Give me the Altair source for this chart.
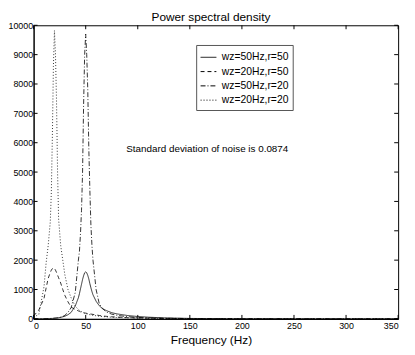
import altair as alt
import pandas as pd

# ---------------- data ----------------
freq = [0, 5, 10, 12, 14, 16, 17, 18, 19, 20, 21, 22, 23, 24, 26, 28, 30, 33, 36, 40,
        43, 44, 45, 46, 47, 48, 49, 50, 51, 52, 53, 54, 55, 56, 57, 60, 63, 66, 70, 75,
        80, 90, 100, 110, 125, 150, 175, 200, 250, 300, 350]

psd_50_50 = [0, 2, 5, 7, 9, 12, 13, 15, 17, 20, 23, 27, 32, 38, 52, 70, 90, 140, 220, 440,
             720, 860, 1020, 1180, 1340, 1470, 1570, 1600, 1570, 1480, 1360, 1200, 1060, 930, 820, 600, 450, 350, 280, 210,
             170, 115, 80, 57, 35, 15, 8, 4, 1, 0, 0]

psd_20_50 = [100, 300, 700, 1050, 1380, 1580, 1660, 1710, 1740, 1720, 1660, 1580, 1490, 1400, 1220, 1000, 800, 580, 400, 320,
             270, 255, 240, 230, 220, 210, 200, 195, 188, 180, 175, 170, 165, 158, 152, 135, 115, 100, 85, 70,
             60, 40, 30, 22, 15, 8, 4, 2, 1, 0, 0]

psd_50_20 = [0, 2, 5, 8, 10, 15, 17, 20, 22, 25, 28, 32, 36, 40, 55, 80, 120, 220, 380, 900,
             2000, 2300, 2900, 3700, 5000, 7300, 9000, 9700, 9000, 7800, 5800, 4400, 3200, 2500, 2000, 1000, 520, 360, 230, 160,
             120, 75, 50, 35, 22, 10, 5, 3, 1, 0, 0]

psd_20_20 = [60, 150, 1100, 1900, 2500, 3300, 4300, 6200, 8600, 9820, 9000, 7400, 5000, 3400, 2500, 2000, 1500, 1000, 720, 430,
             320, 290, 265, 245, 225, 205, 190, 180, 170, 160, 150, 142, 135, 128, 120, 105, 92, 80, 68, 56,
             47, 38, 28, 20, 13, 7, 4, 2, 1, 0, 0]

series_names = ["wz=50Hz,r=50", "wz=20Hz,r=50", "wz=50Hz,r=20", "wz=20Hz,r=20"]
series_values = [psd_50_50, psd_20_50, psd_50_20, psd_20_20]

x_ticks = [0, 50, 100, 150, 200, 250, 300, 350]
y_ticks = [0, 1000, 2000, 3000, 4000, 5000, 6000, 7000, 8000, 9000, 10000]

chart_title = "Power spectral density"
x_title = "Frequency (Hz)"
note_text = "Standard deviation of noise is 0.0874"
note_f = 89
note_psd = 5800

# ---------------- build tables ----------------
rows = []
for name, vals in zip(series_names, series_values):
    for f, v in zip(freq, vals):
        rows.append({"f": f, "psd": v, "series": name})
df = pd.DataFrame(rows)

FONT = "Liberation Sans"
W, H = 370, 298

xs = alt.Scale(domain=[0, 350], nice=False, zero=False)
ys = alt.Scale(domain=[0, 10000], nice=False)

x_axis = alt.Axis(values=x_ticks, title=x_title, ticks=False, grid=False,
                  labelFontSize=9, labelPadding=3, labelColor="black",
                  titleFontSize=12, titleFontWeight="normal", titleColor="black",
                  titlePadding=4, titleX=180, domainColor="black", labelFont=FONT,
                  titleFont=FONT)
y_axis = alt.Axis(values=y_ticks, title=None, format="d", ticks=False, grid=False,
                  labelFontSize=9, labelPadding=1, labelColor="black",
                  domainColor="black", labelFont=FONT)

lines = alt.Chart(df).mark_line(strokeWidth=0.8, color="black").encode(
    x=alt.X("f:Q", scale=xs, axis=x_axis),
    y=alt.Y("psd:Q", scale=ys, axis=y_axis),
    strokeDash=alt.StrokeDash(
        "series:N",
        scale=alt.Scale(domain=series_names, range=[[1, 0], [4, 3], [5, 2, 1, 2], [1, 2]]),
        legend=alt.Legend(title=None, orient="none", legendX=165, legendY=20,
                          direction="vertical", symbolType="stroke", symbolSize=256,
                          symbolStrokeWidth=1, symbolStrokeColor="black",
                          labelFontSize=10.5, labelFont=FONT, labelColor="black",
                          labelOffset=5, padding=4, rowPadding=0.5,
                          strokeColor="#555", fillColor="white"),
    ),
)

xt_df = pd.DataFrame({"f": x_ticks})
yt_df = pd.DataFrame({"psd": y_ticks})

tick_b = alt.Chart(xt_df).mark_rule(color="black", strokeWidth=1).encode(
    x=alt.X("f:Q", scale=xs, axis=x_axis), y=alt.value(H - 4), y2=alt.value(H))
tick_t = alt.Chart(xt_df).mark_rule(color="black", strokeWidth=1).encode(
    x=alt.X("f:Q", scale=xs, axis=x_axis), y=alt.value(0), y2=alt.value(4))
tick_l = alt.Chart(yt_df).mark_rule(color="black", strokeWidth=1).encode(
    y=alt.Y("psd:Q", scale=ys, axis=y_axis), x=alt.value(0), x2=alt.value(4))
tick_r = alt.Chart(yt_df).mark_rule(color="black", strokeWidth=1).encode(
    y=alt.Y("psd:Q", scale=ys, axis=y_axis), x=alt.value(W - 4), x2=alt.value(W))

note = alt.Chart(pd.DataFrame({"f": [note_f], "psd": [note_psd], "label": [note_text]})).mark_text(
    align="left", baseline="middle", fontSize=10, font=FONT, color="black"
).encode(
    x=alt.X("f:Q", scale=xs, axis=x_axis),
    y=alt.Y("psd:Q", scale=ys, axis=y_axis),
    text="label:N",
)

chart = alt.layer(lines, tick_b, tick_t, tick_l, tick_r, note).properties(
    width=W, height=H,
    title=alt.TitleParams(chart_title, fontSize=12, fontWeight="normal", font=FONT,
                          color="black", anchor="middle", offset=-3, dx=-5),
    autosize=alt.AutoSizeParams(type="none"),
    padding={"left": 26, "top": 15, "right": 9, "bottom": 25},
).configure(font=FONT).configure_view(stroke="black", strokeWidth=1)

chart.save("out.html", embed_options={"renderer": "svg", "actions": False})
